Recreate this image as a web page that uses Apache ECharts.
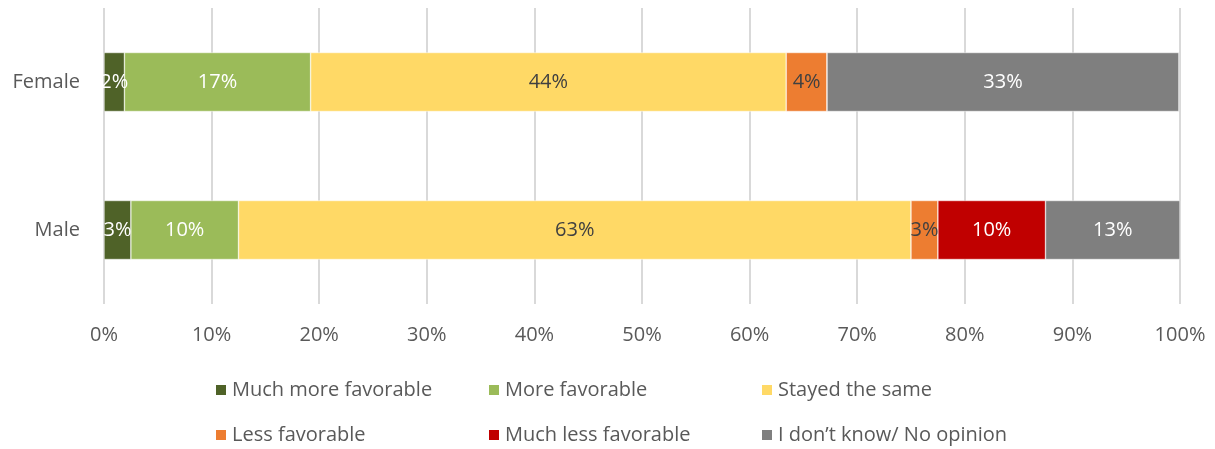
<!DOCTYPE html>
<html>
<head>
<meta charset="utf-8">
<script src="https://cdn.jsdelivr.net/npm/echarts@6/dist/echarts.min.js"></script>
<style>
  html, body { margin: 0; padding: 0; background: #fff; }
  #main { width: 1215px; height: 449px; }
</style>
</head>
<body>
<div id="main"></div>
<script>
// categories, bottom to top
var categories = ['Male', 'Female'];
var seriesNames = ['Much more favorable', 'More favorable', 'Stayed the same',
                   'Less favorable', 'Much less favorable', 'I don\u2019t know/ No opinion'];
var colors = ['#4f6228', '#9bbb59', '#ffd966', '#ed7d31', '#c00000', '#7f7f7f'];
var labelColors = ['#fff', '#fff', '#404040', '#404040', '#fff', '#fff'];
// shares in percent, [Male, Female]
var muchMore = [2.5, 1.9];
var more = [10.0, 17.3];
var same = [62.5, 44.2];
var less = [2.5, 3.8];
var muchLess = [10.0, 0];
var dontKnow = [12.5, 32.7];
var values = [muchMore, more, same, less, muchLess, dontKnow];
var tickStep = 10;

var font = 'Open Sans';
var fs = 20;
var myChart = echarts.init(document.getElementById('main'));

var series = seriesNames.map(function (name, i) {
    return {
        name: name,
        type: 'bar',
        stack: 'total',
        barWidth: 59,
        data: values[i],
        itemStyle: { color: colors[i], borderColor: '#fff', borderWidth: 0.5 },
        label: {
            show: true,
            position: 'inside',
            color: labelColors[i],
            fontFamily: font,
            fontSize: fs,
            formatter: function (p) {
                return p.value > 0 ? Math.round(p.value) + '%' : '';
            }
        }
    };
});

// one legend per item so the columns line up like the original
var legendLeft = [214, 487, 760];
var legendTop = [380, 425];
var legends = seriesNames.map(function (name, i) {
    return {
        top: legendTop[Math.floor(i / 3)],
        left: legendLeft[i % 3],
        padding: 0,
        itemWidth: 12,
        itemHeight: 12,
        itemGap: 0,
        icon: 'rect',
        selectedMode: false,
        data: [name],
        textStyle: { fontFamily: font, fontSize: fs, color: '#595959' }
    };
});

var option = {
    animation: false,
    color: colors,
    legend: legends,
    grid: { left: 104, right: 35, top: 8, height: 296, containLabel: false },
    xAxis: {
        type: 'value',
        min: 0,
        max: 100,
        interval: tickStep,
        axisLine: { show: false },
        axisTick: { show: false },
        splitLine: { lineStyle: { color: '#d9d9d9', width: 2 } },
        axisLabel: {
            margin: 21,
            fontFamily: font,
            fontSize: fs,
            color: '#595959',
            formatter: '{value}%'
        }
    },
    yAxis: {
        type: 'category',
        data: categories,
        axisLine: { show: false },
        axisTick: { show: false },
        axisLabel: { margin: 24, fontFamily: font, fontSize: fs, color: '#595959' }
    },
    series: series
};
myChart.setOption(option);
</script>
</body>
</html>
